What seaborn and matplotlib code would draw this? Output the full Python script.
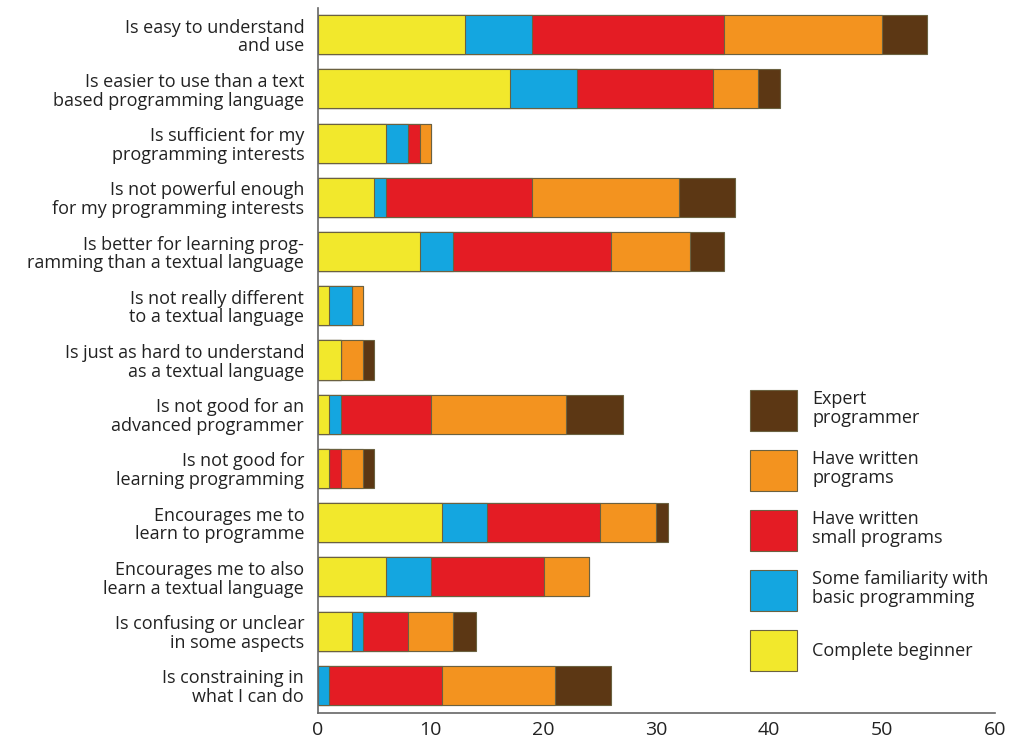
import matplotlib.pyplot as plt
import numpy as np
import pandas as pd
import seaborn as sns
from matplotlib.patches import Patch

statements = [
    'Is easy to understand\nand use',
    'Is easier to use than a text\nbased programming language',
    'Is sufficient for my\nprogramming interests',
    'Is not powerful enough\nfor my programming interests',
    'Is better for learning prog-\nramming than a textual language',
    'Is not really different\nto a textual language',
    'Is just as hard to understand\nas a textual language',
    'Is not good for an\nadvanced programmer',
    'Is not good for\nlearning programming',
    'Encourages me to\nlearn to programme',
    'Encourages me to also\nlearn a textual language',
    'Is confusing or unclear\nin some aspects',
    'Is constraining in\nwhat I can do',
]
beginner = [13, 17, 6, 5, 9, 1, 2, 1, 1, 11, 6, 3, 0]
familiar = [6, 6, 2, 1, 3, 2, 0, 1, 0, 4, 4, 1, 1]
small_programs = [17, 12, 1, 13, 14, 0, 0, 8, 1, 10, 10, 4, 10]
programs = [14, 4, 1, 13, 7, 1, 2, 12, 2, 5, 4, 4, 10]
expert = [4, 2, 0, 5, 3, 0, 1, 5, 1, 1, 0, 2, 5]

groups = ['Complete beginner', 'Some familiarity with\nbasic programming',
          'Have written\nsmall programs', 'Have written\nprograms', 'Expert\nprogrammer']
colors = ['#f2e82c', '#14a6e0', '#e41c24', '#f3931f', '#5c3714']

df = pd.DataFrame({'statement': statements, groups[0]: beginner, groups[1]: familiar,
                   groups[2]: small_programs, groups[3]: programs, groups[4]: expert})
cum = df[groups].cumsum(axis=1)
cum['statement'] = statements

sns.set_style('white')
plt.rcParams['font.family'] = ['Open Sans', 'DejaVu Sans']

fig, ax = plt.subplots(figsize=(10.13, 7.5), dpi=100)
fig.subplots_adjust(left=0.314, right=0.982, top=0.99, bottom=0.05)

# stacked: draw the running totals from the longest down
for grp, col in zip(groups[::-1], colors[::-1]):
    sns.barplot(data=cum, y='statement', x=grp, orient='h', color=col, width=0.72,
                edgecolor='#6b6140', linewidth=0.8, saturation=1, ax=ax)

ax.set_xlim(0, 60)
ax.set_xticks(np.arange(0, 61, 10))
ax.set_xlabel('')
ax.set_ylabel('')
ax.set_ylim(len(statements) - 0.5, -0.5)
ax.set_yticks(np.arange(len(statements)), statements)
ax.set_yticks(np.arange(len(statements) - 1) + 0.5, minor=True)
ax.tick_params(axis='y', which='major', length=0, labelsize=13, colors='#222222', pad=10)
ax.tick_params(axis='y', which='minor', direction='in', length=6, width=1, color='#555555')
ax.tick_params(axis='x', direction='in', length=12, width=1, color='#555555',
               labelsize=14, labelcolor='#222222', pad=6)
for s in ['top', 'right']:
    ax.spines[s].set_visible(False)
for s in ['left', 'bottom']:
    ax.spines[s].set_color('#666666')
    ax.spines[s].set_linewidth(1.2)
for lbl in ax.get_yticklabels():
    lbl.set_multialignment('right')
    lbl.set_linespacing(1.05)

handles = [Patch(facecolor=c, edgecolor='#6b6140', linewidth=0.8) for c in colors[::-1]]
leg = fig.legend(handles, groups[::-1], loc='upper left', bbox_to_anchor=(0.733, 0.49),
                 frameon=False, handlelength=2.6, handleheight=3.1, labelspacing=1.07,
                 handletextpad=0.85, fontsize=13, borderaxespad=0)
for t in leg.get_texts():
    t.set_linespacing(1.05)
    t.set_color('#222222')

plt.savefig('out.png', dpi=100)
plt.close()
